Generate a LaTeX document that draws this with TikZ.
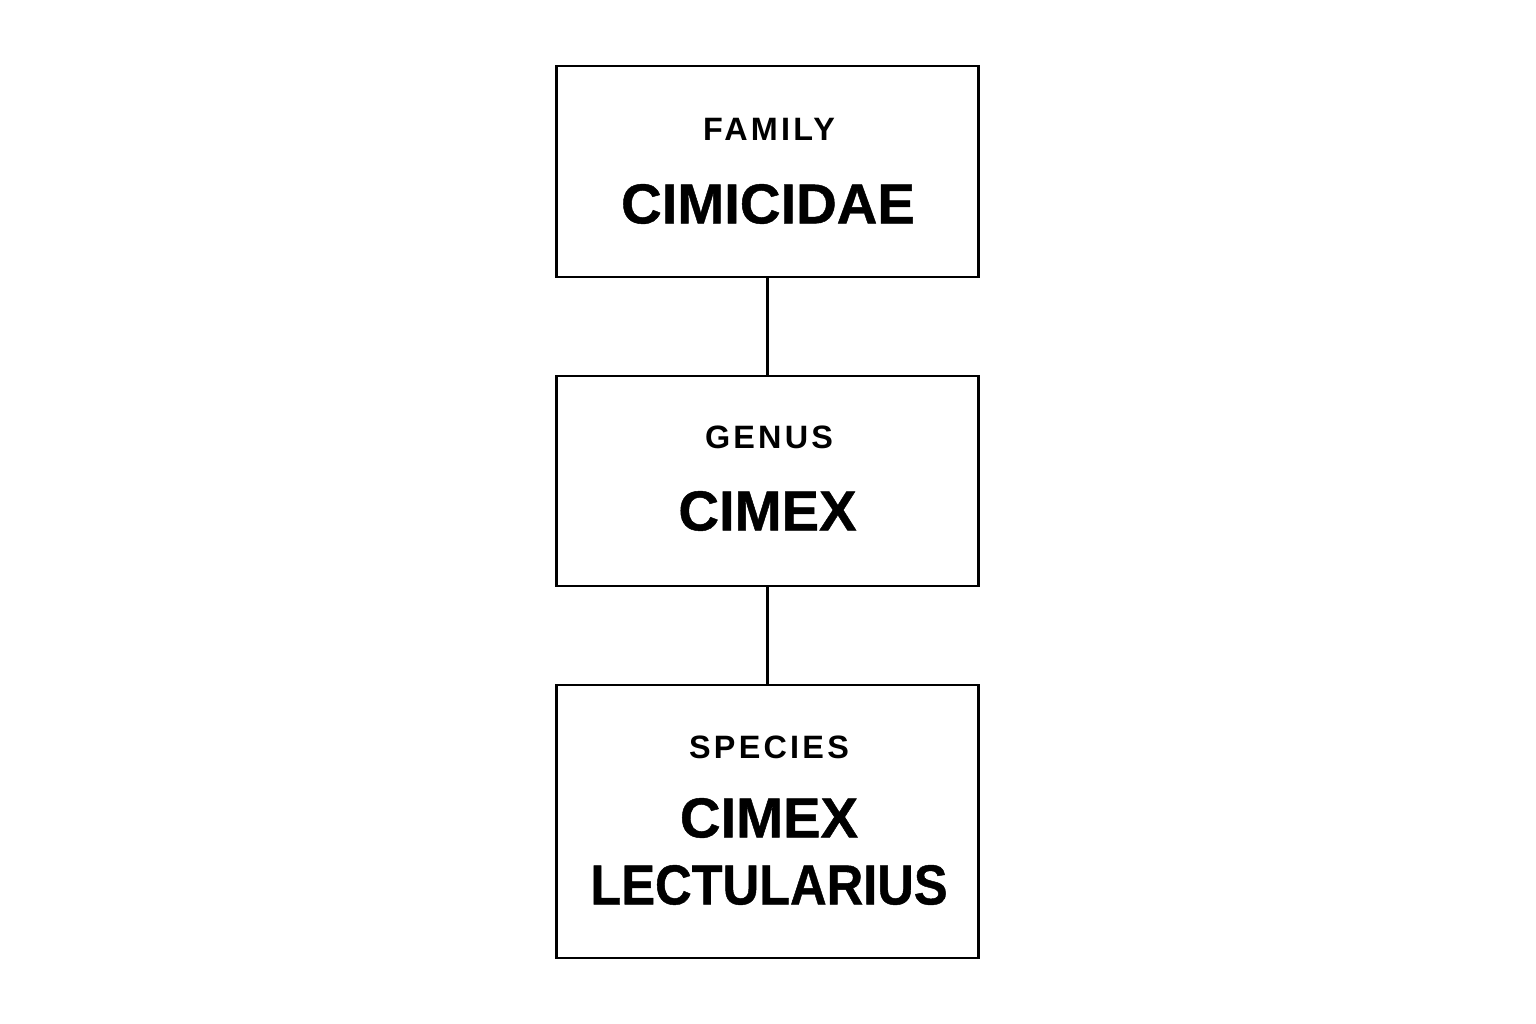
\documentclass[tikz,border=0pt]{standalone}
\usepackage{fontspec}
\setmainfont{Liberation Sans}
\newfontfamily\labelfont[LetterSpace=10]{Liberation Sans Bold}
\newfontfamily\namefont[FakeBold=0.8]{Liberation Sans Bold}
\begin{document}
\begin{tikzpicture}[x=0.01cm,y=-0.01cm,
  rankbox/.style={draw=black,line width=0.8pt,minimum width=4.21cm,inner sep=0pt,fill=white},
  ranklabel/.style={font=\labelfont\fontsize{9.2}{11}\selectfont,inner sep=0pt,anchor=center},
  rankname/.style={font=\namefont\fontsize{16}{19}\selectfont,inner sep=0pt,anchor=center,align=center},
  link/.style={line width=0.8pt}]
\useasboundingbox[fill=white] (0,0) rectangle (1536,1024);
\node[rankbox,minimum height=2.11cm] (fam) at (767.5,171.5) {};
\node[rankbox,minimum height=2.10cm] (gen) at (767.5,481) {};
\node[rankbox,minimum height=2.73cm] (spe) at (767.5,821.5) {};
\draw[link] (fam.south) -- (gen.north);
\draw[link] (gen.south) -- (spe.north);
\node[ranklabel] (famL) at (769,129) {FAMILY};
\node[rankname] (famN) at (768,204) {CIMICIDAE};
\node[ranklabel] (genL) at (769,437) {GENUS};
\node[rankname] (genN) at (767.5,511) {CIMEX};
\node[ranklabel] (speL) at (769,747) {SPECIES};
\node[rankname] (speN1) at (769,818) {CIMEX};
\node[rankname] (speN2) at (769,885) {\scalebox{0.9}[1]{LECTULARIUS}};
\end{tikzpicture}
\end{document}
